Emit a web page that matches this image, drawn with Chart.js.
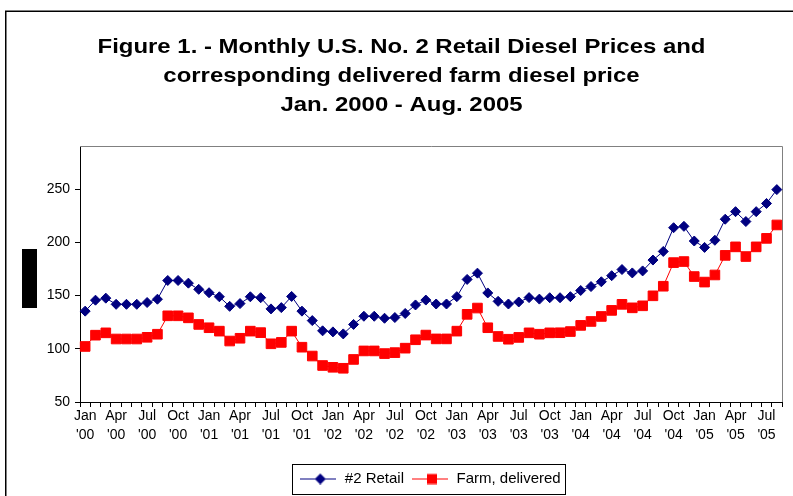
<!DOCTYPE html>
<html><head><meta charset="utf-8">
<script src="https://cdn.jsdelivr.net/npm/chart.js@4/dist/chart.umd.min.js"></script>
<style>html,body{margin:0;padding:0;background:#fff;}#wrap{width:793px;height:496px;}</style>
</head><body><div id="wrap"><canvas id="c" width="793" height="496"></canvas></div>
<script>
const categories = [
"Jan '00","Feb '00","Mar '00","Apr '00","May '00","Jun '00","Jul '00","Aug '00","Sep '00","Oct '00","Nov '00","Dec '00",
"Jan '01","Feb '01","Mar '01","Apr '01","May '01","Jun '01","Jul '01","Aug '01","Sep '01","Oct '01","Nov '01","Dec '01",
"Jan '02","Feb '02","Mar '02","Apr '02","May '02","Jun '02","Jul '02","Aug '02","Sep '02","Oct '02","Nov '02","Dec '02",
"Jan '03","Feb '03","Mar '03","Apr '03","May '03","Jun '03","Jul '03","Aug '03","Sep '03","Oct '03","Nov '03","Dec '03",
"Jan '04","Feb '04","Mar '04","Apr '04","May '04","Jun '04","Jul '04","Aug '04","Sep '04","Oct '04","Nov '04","Dec '04",
"Jan '05","Feb '05","Mar '05","Apr '05","May '05","Jun '05","Jul '05","Aug '05"];
const retail = [135.4,145.7,147.6,141.8,141.8,141.8,143.5,146.6,164.2,164.2,161.7,155.9,
152.7,148.9,139.9,142.5,148.9,148,137.5,138.7,149.2,135.4,126.5,116.9,
115.9,114,122.9,130.6,130.6,128.7,129.4,133.2,141.2,145.8,142.1,142.1,
149,165.2,171.1,152.5,144.6,142.1,144,148.1,146.7,148,148,149,
154.8,158.5,163,168.7,174.5,171.3,173.2,183.4,191.5,213.8,215.1,201.3,
195.3,202,221.8,228.9,219.6,228.9,236.6,249.6];
const farm = [102.2,112.8,115,109.2,109.2,109.2,110.8,113.7,131,131,129.1,122.9,
119.8,116.6,107.3,109.9,116.6,115.2,104.7,106,116.6,101.5,93.2,84.3,
82.6,81.7,90,98,98,95.5,96.4,100.6,108.5,112.9,109.3,109.3,
116.6,132.4,138.3,119.8,111.6,109,110.7,115,113.7,115,115.1,116.2,
122,125.7,130.4,136.1,141.8,138.5,140.4,149.8,158.8,181,182,167.9,
162.7,169.4,187.8,195.8,186.7,195.8,203.8,216.4];
const yTicks = [50,100,150,200,250];
const seriesNames = ["#2 Retail","Farm, delivered"];
const titleLines = ["Figure 1. - Monthly U.S. No. 2 Retail Diesel Prices and","corresponding delivered farm diesel price","Jan. 2000 - Aug. 2005"];

const FONT = "'Liberation Sans', Arial, sans-serif";
const NAVY = '#000080', RED = '#FF0000';

function legendImg(color, style){
  const c = document.createElement('canvas'); c.width = 36; c.height = 12;
  const g = c.getContext('2d');
  g.strokeStyle = color; g.lineWidth = 1;
  g.beginPath(); g.moveTo(0,6.5); g.lineTo(36,6.5); g.stroke();
  g.fillStyle = color;
  if (style === 'diamond'){ g.beginPath(); g.moveTo(20-5.5,6.5); g.lineTo(20,1); g.lineTo(25.5,6.5); g.lineTo(20,12); g.closePath(); g.fill(); }
  else { g.fillRect(15,1.5,10,10); }
  return c;
}
const imgs = [legendImg(NAVY,'diamond'), legendImg(RED,'rect')];

const decor = {
  id:'decor',
  beforeDraw(chart){
    const ctx = chart.ctx; ctx.save();
    ctx.fillStyle = '#fff'; ctx.fillRect(0,0,chart.width,chart.height);
    ctx.strokeStyle = '#000'; ctx.lineWidth = 1.5;
    ctx.strokeRect(5.75, 11.25, 2000, 2000);
    ctx.fillStyle = '#000';
    ctx.fillRect(22, 249, 15, 59);
    ctx.restore();
  },
  beforeDatasetsDraw(chart){
    const ctx = chart.ctx, a = chart.chartArea; ctx.save();
    ctx.strokeStyle = '#808080'; ctx.lineWidth = 1;
    ctx.beginPath();
    ctx.moveTo(a.left, a.top+0.5); ctx.lineTo(a.right+0.5, a.top+0.5); ctx.lineTo(a.right+0.5, a.bottom);
    ctx.stroke(); ctx.restore();
  },
  afterLayout(chart){
    const t = chart.titleBlock;
    if (t){
      t.left += 10.5; t.right += 10.5;
      if (!t._wrapped){
        const orig = t.draw;
        t.draw = function(){
          const ctx = this.ctx, cx = (this.left + this.right)/2;
          ctx.save(); ctx.translate(cx,0); ctx.scale(1.14,1); ctx.translate(-cx,0);
          orig.apply(this, arguments); ctx.restore();
        };
        t._wrapped = true;
      }
    }
    const lg = chart.legend;
    if (lg){ lg.left += 39; lg.right += 39; }
  },
  afterDraw(chart){
    const lg = chart.legend; if (!lg || !lg.legendHitBoxes.length) return;
    const hb = lg.legendHitBoxes;
    let minX = Infinity, maxX = -Infinity, cy = 0;
    hb.forEach(h => { minX = Math.min(minX, h.left); maxX = Math.max(maxX, h.left + h.width); cy = h.top + h.height/2; });
    const ctx = chart.ctx; ctx.save();
    ctx.strokeStyle = '#000'; ctx.lineWidth = 1;
    ctx.strokeRect(Math.round(minX-7)+0.5, Math.round(cy-15)+0.5, Math.round(maxX-minX+12), 30);
    ctx.restore();
  }
};

new Chart(document.getElementById('c'), {
  type:'line',
  data:{
    labels: categories,
    datasets:[
      {label:seriesNames[0], data:retail, borderColor:NAVY, backgroundColor:NAVY, borderWidth:1,
       pointStyle:'rectRot', pointRadius:5, pointBorderWidth:1, pointBackgroundColor:NAVY, pointBorderColor:NAVY, tension:0},
      {label:seriesNames[1], data:farm, borderColor:RED, backgroundColor:RED, borderWidth:1,
       pointStyle:'rect', pointRadius:6.8, pointBorderWidth:1, pointBackgroundColor:RED, pointBorderColor:RED, tension:0}
    ]
  },
  options:{
    responsive:false, animation:false, devicePixelRatio:1,
    layout:{padding:{left:0,right:11,top:0,bottom:0}},
    plugins:{
      tooltip:{enabled:false},
      title:{display:true, text:titleLines, color:'#000',
        font:{family:FONT, size:21, weight:'bold', lineHeight:'29px'},
        padding:{top:33,bottom:26}},
      legend:{position:'bottom', align:'center',
        labels:{usePointStyle:true, pointStyleWidth:38, boxHeight:12, padding:7, color:'#000',
          font:{family:FONT, size:15},
          generateLabels(chart){
            return chart.data.datasets.map((d,i)=>({text:d.label, pointStyle:imgs[i], fillStyle:d.borderColor,
              strokeStyle:d.borderColor, lineWidth:0, hidden:false, datasetIndex:i, fontColor:'#000'}));
          }}}
    },
    scales:{
      x:{
        offset:true,
        grid:{display:true, drawOnChartArea:false, drawTicks:true, tickLength:5, color:'#000', offset:true},
        border:{display:true, color:'#000', width:1},
        ticks:{autoSkip:false, maxRotation:0, minRotation:0, padding:0, color:'#000',
          font:{family:FONT, size:14, lineHeight:'19px'},
          callback(v, i){ return i % 3 === 0 ? categories[i].split(' ') : ''; }},
        afterFit(s){ s.height = 62; }
      },
      y:{
        min:50, max:290.6,
        grid:{display:true, drawOnChartArea:false, drawTicks:true, tickLength:5, color:'#000'},
        border:{display:true, color:'#000', width:1},
        afterBuildTicks(s){ s.ticks = yTicks.map(v=>({value:v})); },
        ticks:{padding:5, color:'#000', font:{family:FONT, size:14}},
        afterFit(s){ s.width = 80; }
      }
    }
  },
  plugins:[decor]
});
</script></body></html>
